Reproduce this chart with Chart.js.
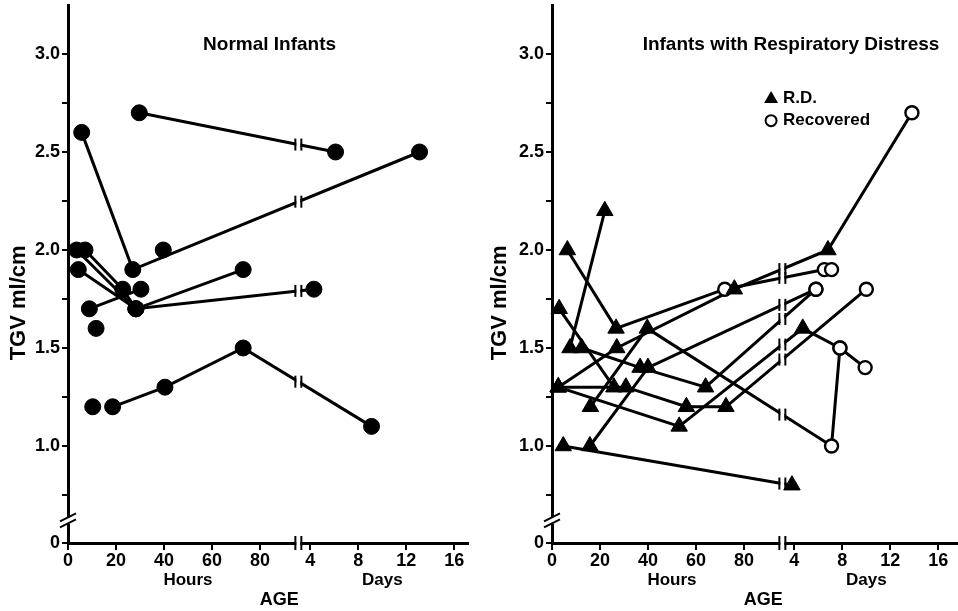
<!DOCTYPE html>
<html>
<head>
<meta charset="utf-8">
<script src="https://cdn.jsdelivr.net/npm/chart.js@4.4.1/dist/chart.umd.min.js"></script>
<style>
  html, body { margin: 0; padding: 0; background: #fff; }
  #wrap { position: relative; width: 958px; height: 611px; }
  canvas { position: absolute; top: 0; }
  #cLeft { left: 0; }
  #cRight { left: 479px; }
</style>
</head>
<body>
<div id="wrap">
  <canvas id="cLeft" width="479" height="611"></canvas>
  <canvas id="cRight" width="479" height="611"></canvas>
</div>
<script>
// Ages are written with a unit: 'h' = hours, 'd' = days (the x axis is broken near 4 days)

// Normal infants, filled dots, one row per infant
var normalAges = [
  ['29.7h', '6.1d'],
  ['5.7h', '27h', '13.1d'],
  ['3.6h', '28.3h', '73h'],
  ['7.1h', '22.8h', '28.3h'],
  ['4.3h', '28.3h', '4.3d'],
  ['8.9h', '30.4h'],
  ['18.6h', '40.4h', '73h', '9.1d'],
  ['39.7h'],
  ['11.7h'],
  ['10.3h']
];
var normalTgv = [
  [2.7, 2.5],
  [2.6, 1.9, 2.5],
  [2.0, 1.7, 1.9],
  [2.0, 1.8, 1.7],
  [1.9, 1.7, 1.8],
  [1.7, 1.8],
  [1.2, 1.3, 1.5, 1.1],
  [2.0],
  [1.6],
  [1.2]
];

// Infants with respiratory distress
var rdAges = [
  ['3h', '25.8h'],
  ['7.5h', '22h'],
  ['6.4h', '26.7h', '72h', '6.5d'],
  ['2.6h', '27h', '76h', '6.8d', '13.8d'],
  ['12.4h', '36.7h', '64h', '5.8d'],
  ['15.8h', '40h', '5.8d'],
  ['16h', '39.7h', '7.1d', '7.8d'],
  ['2.6h', '53h', '4.7d', '7.8d', '9.9d'],
  ['2.6h', '30.8h', '56h', '72.5h', '10d'],
  ['4.7h', '3.8d'],
  ['7.1d']
];
var rdTgv = [
  [1.7, 1.3],
  [1.5, 2.2],
  [2.0, 1.6, 1.8, 1.9],
  [1.3, 1.5, 1.8, 2.0, 2.7],
  [1.5, 1.4, 1.3, 1.8],
  [1.0, 1.4, 1.8],
  [1.2, 1.6, 1.0, 1.5],
  [1.3, 1.1, 1.6, 1.5, 1.4],
  [1.3, 1.3, 1.2, 1.2, 1.8],
  [1.0, 0.8],
  [1.9]
];
// T = R.D. (filled triangle), O = recovered (open circle)
var rdStatus = ['TT', 'TT', 'TTOO', 'TTTTO', 'TTTO', 'TTO', 'TTOO', 'TTTOO', 'TTTTO', 'TT', 'O'];

// Axis ticks
var hourTicks = [0, 20, 40, 60, 80];
var dayTicks = [4, 8, 12, 16];
var yTicks = [0.75, 1.0, 1.25, 1.5, 1.75, 2.0, 2.25, 2.5, 2.75, 3.0];

// x axis: hours up to the break, then days squeezed (1 day = 5 hours of room)
var BREAK = 96;
var DAY_AT_BREAK = 3;
var DAY_WIDTH = 5;
// y axis: the bottom of the axis is labelled 0, under a break
var Y_MIN = 0.505, Y_MAX = 3.25, Y_BREAK = 0.62;

function ageToX(s) {
  var n = parseFloat(s);
  return s.slice(-1) === 'd' ? BREAK + (n - DAY_AT_BREAK) * DAY_WIDTH : n;
}

var FONT = "'Liberation Sans', Arial, sans-serif";
Chart.defaults.font.family = FONT;
Chart.defaults.color = '#000';

function buildDatasets(ages, tgv, status) {
  var sets = [];
  var all = [], styles = [], radii = [], fills = [], widths = [];
  ages.forEach(function(row, i) {
    var pts = row.map(function(a, j) { return { x: ageToX(a), y: tgv[i][j] }; });
    if (pts.length > 1) {
      sets.push({
        data: pts, showLine: true, borderColor: '#000', borderWidth: 3,
        pointRadius: 0, pointHitRadius: 0, order: 2, clip: false
      });
    }
    pts.forEach(function(p, j) {
      var s = status ? status[i].charAt(j) : 'N';
      all.push(p);
      styles.push(s === 'T' ? 'triangle' : 'circle');
      radii.push(s === 'T' ? 9.5 : (s === 'O' ? 6.5 : 8));
      fills.push(s === 'O' ? '#fff' : '#000');
      widths.push(s === 'O' ? 2.4 : 1);
    });
  });
  // dots drawn on top of every line
  sets.push({
    data: all, showLine: false, pointStyle: styles, pointRadius: radii,
    pointBackgroundColor: fills, pointBorderColor: '#000', pointBorderWidth: widths,
    order: 1, clip: false
  });
  return sets;
}

function breakBars(ctx, x, y, h) {
  ctx.fillStyle = '#fff';
  ctx.fillRect(x - 2, y - 3, 4, 6);
  ctx.fillStyle = '#000';
  ctx.fillRect(x - 4, y - h, 2, 2 * h);
  ctx.fillRect(x + 2, y - h, 2, 2 * h);
}

var decorPlugin = {
  id: 'decor',
  afterDraw: function(chart, args, o) {
    var ctx = chart.ctx, xs = chart.scales.x, ys = chart.scales.y, area = chart.chartArea;
    var bx = xs.getPixelForValue(BREAK);
    ctx.save();

    // break marks where a line crosses from hours to days
    chart.data.datasets.forEach(function(ds, i) {
      if (!ds.showLine) return;
      var pts = chart.getDatasetMeta(i).data;
      for (var j = 1; j < pts.length; j++) {
        var a = pts[j - 1], b = pts[j];
        if ((a.x - bx) * (b.x - bx) < 0) {
          var cy = a.y + (bx - a.x) / (b.x - a.x) * (b.y - a.y);
          breakBars(ctx, bx, cy, 6);
        }
      }
    });

    // axis breaks
    breakBars(ctx, bx, area.bottom, 7);
    var yb = ys.getPixelForValue(Y_BREAK), ax = area.left;
    ctx.fillStyle = '#fff';
    ctx.fillRect(ax - 3, yb - 3, 6, 6);
    ctx.strokeStyle = '#000';
    ctx.lineWidth = 2;
    [-3, 3].forEach(function(d) {
      ctx.beginPath();
      ctx.moveTo(ax - 8, yb + d + 4);
      ctx.lineTo(ax + 8, yb + d - 4);
      ctx.stroke();
    });

    // texts
    ctx.fillStyle = '#000';
    ctx.textAlign = 'center';
    ctx.textBaseline = 'middle';
    ctx.font = 'bold 19px ' + FONT;
    ctx.fillText(o.title, xs.getPixelForValue(o.titleAt), area.top + 40);
    ctx.font = 'bold 17px ' + FONT;
    ctx.fillText('Hours', xs.getPixelForValue(50), area.bottom + 37);
    ctx.fillText('Days', xs.getPixelForValue(ageToX('10d')), area.bottom + 37);
    ctx.font = 'bold 18px ' + FONT;
    ctx.fillText('AGE', xs.getPixelForValue(88), area.bottom + 57);

    if (o.legend) {
      var lx = xs.getPixelForValue(91.3);
      var l1 = ys.getPixelForValue(2.776), l2 = ys.getPixelForValue(2.66);
      ctx.beginPath();
      ctx.moveTo(lx, l1 - 7);
      ctx.lineTo(lx + 7, l1 + 5);
      ctx.lineTo(lx - 7, l1 + 5);
      ctx.closePath();
      ctx.fill();
      ctx.beginPath();
      ctx.arc(lx, l2, 5.5, 0, Math.PI * 2);
      ctx.lineWidth = 2;
      ctx.stroke();
      ctx.textAlign = 'left';
      ctx.font = 'bold 17px ' + FONT;
      ctx.fillText('R.D.', lx + 12, l1);
      ctx.fillText('Recovered', lx + 12, l2);
    }

    ctx.translate(o.yTitleX, ys.getPixelForValue(1.73));
    ctx.rotate(-Math.PI / 2);
    ctx.textAlign = 'center';
    ctx.font = 'bold 22px ' + FONT;
    ctx.fillText('TGV ml/cm', 0, 0);
    ctx.restore();
  }
};

function makeChart(id, datasets, cfg) {
  var xTickVals = hourTicks.concat(dayTicks.map(function(d) { return ageToX(d + 'd'); }));
  var xTickText = hourTicks.concat(dayTicks).map(String);
  return new Chart(document.getElementById(id), {
    type: 'scatter',
    data: { datasets: datasets },
    options: {
      responsive: false,
      animation: false,
      events: [],
      layout: { autoPadding: false, padding: { top: 5, right: cfg.rightPad, left: 0, bottom: 0 } },
      plugins: {
        legend: { display: false },
        tooltip: { enabled: false },
        decor: cfg.decor
      },
      scales: {
        x: {
          type: 'linear',
          min: 0,
          max: cfg.xMax,
          afterBuildTicks: function(s) {
            s.ticks = xTickVals.map(function(v) { return { value: v }; });
          },
          afterFit: function(s) {
            s.height = 68;
            s.paddingLeft = 0;
            s.paddingRight = 0;
          },
          ticks: {
            autoSkip: false,
            maxRotation: 0,
            padding: 0,
            color: '#000',
            font: { size: 18, weight: 'bold' },
            callback: function(v) {
              var k = xTickVals.indexOf(v);
              return k >= 0 ? xTickText[k] : '';
            }
          },
          grid: { drawOnChartArea: false, drawTicks: true, tickLength: 7, color: '#000', lineWidth: 2 },
          border: { color: '#000', width: 3 }
        },
        y: {
          type: 'linear',
          min: Y_MIN,
          max: Y_MAX,
          afterBuildTicks: function(s) {
            s.ticks = [{ value: Y_MIN }].concat(yTicks.map(function(v) { return { value: v }; }));
          },
          afterFit: function(s) {
            s.width = cfg.yWidth;
            s.paddingTop = 0;
            s.paddingBottom = 0;
          },
          ticks: {
            autoSkip: false,
            padding: 2,
            color: '#000',
            font: { size: 18, weight: 'bold' },
            callback: function(v) {
              if (v === Y_MIN) return '0';
              return (v * 2) % 1 === 0 ? v.toFixed(1) : '';
            }
          },
          grid: { drawOnChartArea: false, drawTicks: true, tickLength: 6, color: '#000', lineWidth: 2 },
          border: { color: '#000', width: 3 }
        }
      }
    },
    plugins: [decorPlugin]
  });
}

makeChart('cLeft', buildDatasets(normalAges, normalTgv, null), {
  rightPad: 11, xMax: 166.7, yWidth: 68,
  decor: { title: 'Normal Infants', titleAt: 84, yTitleX: 19, legend: false }
});
makeChart('cRight', buildDatasets(rdAges, rdTgv, rdStatus), {
  rightPad: 0, xMax: 169.2, yWidth: 73,
  decor: { title: 'Infants with Respiratory Distress', titleAt: 99.6, yTitleX: 21, legend: true }
});
</script>
</body>
</html>
